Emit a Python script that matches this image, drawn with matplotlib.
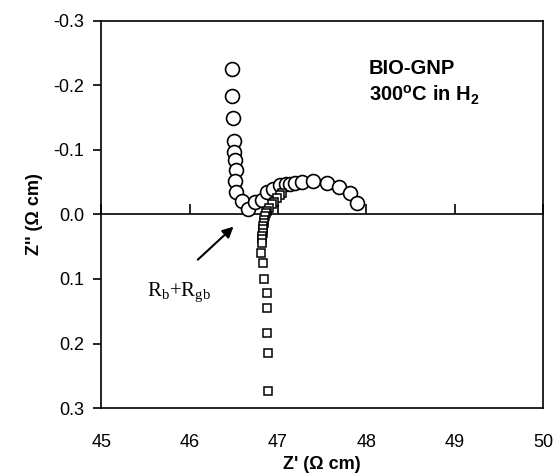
import numpy as np
import matplotlib
matplotlib.use("Agg")
import matplotlib.pyplot as plt

plt.rcParams['font.family'] = ['Liberation Sans', 'DejaVu Sans']
plt.rcParams['axes.unicode_minus'] = False
plt.rcParams['mathtext.fontset'] = 'custom'
plt.rcParams['mathtext.rm'] = 'Liberation Serif'
plt.rcParams['mathtext.bf'] = 'Liberation Sans:bold'

# impedance data (Z' in ohm cm, Z'' in ohm cm)
circle_zre = [46.48, 46.48, 46.49, 46.50, 46.50, 46.51, 46.52, 46.51, 46.53, 46.59,
              46.66, 46.74, 46.82, 46.87, 46.94, 47.02, 47.09, 47.14, 47.19, 47.27,
              47.40, 47.55, 47.69, 47.81, 47.89]
circle_zim = [-0.225, -0.183, -0.150, -0.114, -0.097, -0.085, -0.069, -0.052, -0.035, -0.021,
              -0.009, -0.020, -0.022, -0.035, -0.040, -0.046, -0.047, -0.047, -0.049, -0.050,
              -0.052, -0.049, -0.042, -0.033, -0.017]

square_zre = [47.05, 47.02, 46.99, 46.96, 46.93, 46.90, 46.88, 46.86, 46.85, 46.84,
              46.84, 46.83, 46.83, 46.83, 46.82, 46.82, 46.82, 46.81, 46.83, 46.84,
              46.87, 46.87, 46.87, 46.89, 46.89]
square_zim = [-0.033, -0.030, -0.025, -0.020, -0.016, -0.010, -0.006, -0.002, 0.003, 0.008,
              0.013, 0.018, 0.023, 0.028, 0.033, 0.038, 0.045, 0.060, 0.076, 0.100,
              0.121, 0.145, 0.184, 0.215, 0.273]

xticks = [45, 46, 47, 48, 49, 50]
yticks = [-0.3, -0.2, -0.1, 0.0, 0.1, 0.2, 0.3]

fig = plt.figure(figsize=(5.56, 4.75), dpi=100)
ax = fig.add_axes([0.182, 0.141, 0.795, 0.815])

ax.plot(circle_zre, circle_zim, 'o', mfc='white', mec='black', ms=10, mew=1.2, zorder=3)
ax.plot(square_zre, square_zim, 's', mfc='white', mec='black', ms=6, mew=1.1, zorder=4)

ax.set_xlim(45, 50)
ax.set_ylim(0.3, -0.3)
ax.set_xticks(xticks)
ax.set_yticks(yticks)
ax.set_yticklabels(['%.1f' % v for v in yticks])

for s in ax.spines.values():
    s.set_linewidth(1.2)

ax.tick_params(axis='x', length=0, pad=19, labelsize=13)
ax.tick_params(axis='y', length=6, width=1.2, labelsize=13, pad=6)

# zero line with upward ticks
sec = ax.secondary_xaxis(0.5)
sec.set_xticks(xticks)
sec.tick_params(length=7, width=1.2, labeltop=False, labelbottom=False)
sec.spines['top'].set_linewidth(1.2)

ax.set_xlabel("Z' (\u03a9 cm)", fontsize=13, fontweight='bold', labelpad=3)
ax.set_ylabel("Z'' (\u03a9 cm)", fontsize=13, fontweight='bold', labelpad=8)

ax.text(48.03, -0.218, 'BIO-GNP', fontsize=14.5, fontweight='bold')
ax.text(48.03, -0.176, r'300$^{\mathbf{o}}$C in H$_{\mathbf{2}}$', fontsize=14.5, fontweight='bold')

ax.annotate('', xy=(46.52, 0.016), xytext=(46.07, 0.073),
            arrowprops=dict(arrowstyle='-|>', color='black', lw=1.5, mutation_scale=16))
ax.text(45.88, 0.127, r'R$_{\mathrm{b}}$+R$_{\mathrm{gb}}$', fontsize=15,
        family='Liberation Serif', ha='center')

fig.savefig('out.png', dpi=100)
